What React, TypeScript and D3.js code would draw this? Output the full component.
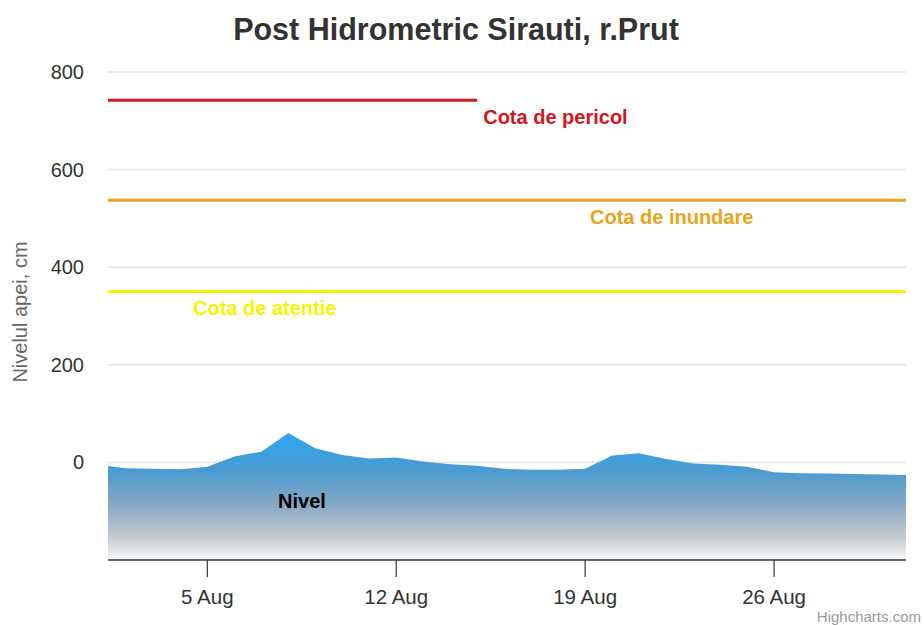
import React from "react";
import * as d3 from "d3";

const TITLE = "Post Hidrometric Sirauti, r.Prut";
const Y_TITLE = "Nivelul apei, cm";
const SERIES_NAME = "Nivel";

// daily water level readings (cm)
const dates = [
  "2024-08-01", "2024-08-02", "2024-08-03", "2024-08-04", "2024-08-05", "2024-08-06",
  "2024-08-07", "2024-08-08", "2024-08-09", "2024-08-10", "2024-08-11", "2024-08-12",
  "2024-08-13", "2024-08-14", "2024-08-15", "2024-08-16", "2024-08-17", "2024-08-18",
  "2024-08-19", "2024-08-20", "2024-08-21", "2024-08-22", "2024-08-23", "2024-08-24",
  "2024-08-25", "2024-08-26", "2024-08-27", "2024-08-28", "2024-08-29", "2024-08-30",
  "2024-08-31",
];
const levels = [
  -5, -12, -13, -14, -9, 12, 22, 60, 29, 15, 8, 10, 2, -4, -7, -13, -15, -15, -13, 14, 19, 7, -2, -5,
  -9, -20, -22, -23, -24, -25, -26,
];

// x extent of the axis
const xExtent = ["2024-08-01T07:40", "2024-08-30T21:20"];

// threshold levels
const thresholdNames = ["Cota de pericol", "Cota de inundare", "Cota de atentie"];
const thresholdValues = [742, 537, 350];
const thresholdColors = ["#d1161e", "#e9a41a", "#f7f400"];
const dangerEnd = "2024-08-15";

const yTicks = [0, 200, 400, 600, 800];
const xTickDates = ["2024-08-05", "2024-08-12", "2024-08-19", "2024-08-26"];
const xTickLabels = ["5 Aug", "12 Aug", "19 Aug", "26 Aug"];

const W = 924;
const H = 625;
const M = { left: 108, right: 906, top: 72, bottom: 560 };
const FONT = "'Liberation Sans', Arial, Helvetica, sans-serif";

const parse = (s: string) => new Date(s.length > 10 ? s : s + "T00:00");

export default function App() {
  const x = d3
    .scaleTime()
    .domain(xExtent.map(parse))
    .range([M.left, M.right]);
  const y = d3.scaleLinear().domain([-200, 800]).range([M.bottom, M.top]);

  const data = dates.map((d, i) => ({ date: parse(d), v: levels[i] }));
  const area = d3
    .area<{ date: Date; v: number }>()
    .x((d) => x(d.date))
    .y0(y(-200))
    .y1((d) => y(d.v));

  const labelPos = [
    { x: x(parse(dangerEnd)) + 6, dy: 24 },
    { x: 590, dy: 24 },
    { x: 193, dy: 23 },
  ];

  return (
    <svg
      width={W}
      height={H}
      style={{ position: "absolute", left: 0, top: 0, background: "#fff" }}
      fontFamily={FONT}
    >
      <defs>
        <clipPath id="plotClip">
          <rect x={M.left} y={M.top - 10} width={M.right - M.left} height={M.bottom - M.top + 10} />
        </clipPath>
        <linearGradient id="areaGrad" x1="0" y1="0" x2="0" y2="1">
          <stop offset="0" stopColor="#2ea5f0" />
          <stop offset="0.3" stopColor="#4b9bd0" />
          <stop offset="0.55" stopColor="#84a7c4" />
          <stop offset="0.8" stopColor="#c0c6cd" />
          <stop offset="1" stopColor="#f8f8f8" />
        </linearGradient>
      </defs>

      <text
        x={456}
        y={40}
        textAnchor="middle"
        fontSize={30.5}
        fontWeight="bold"
        fill="#333333"
      >
        {TITLE}
      </text>

      {/* grid lines */}
      {yTicks.map((t) => (
        <line
          key={t}
          x1={M.left}
          x2={M.right}
          y1={y(t)}
          y2={y(t)}
          stroke="#e6e6e6"
          strokeWidth={1.5}
        />
      ))}

      {/* y labels */}
      {yTicks.map((t) => (
        <text key={t} x={84} y={y(t) + 7} textAnchor="end" fontSize={20} fill="#333333">
          {t}
        </text>
      ))}

      <text
        transform={`translate(27,312) rotate(-90)`}
        textAnchor="middle"
        fontSize={20}
        fill="#666666"
      >
        {Y_TITLE}
      </text>

      {/* area */}
      <g clipPath="url(#plotClip)">
        <path d={area(data) || ""} fill="url(#areaGrad)" />
      </g>

      {/* thresholds */}
      {thresholdValues.map((v, i) => (
        <line
          key={i}
          x1={M.left}
          x2={i === 0 ? x(parse(dangerEnd)) : M.right}
          y1={y(v)}
          y2={y(v)}
          stroke={thresholdColors[i]}
          strokeWidth={3}
        />
      ))}
      {thresholdNames.map((n, i) => (
        <text
          key={n}
          x={labelPos[i].x}
          y={y(thresholdValues[i]) + labelPos[i].dy}
          fontSize={20}
          fontWeight="bold"
          fill={thresholdColors[i]}
        >
          {n}
        </text>
      ))}

      <text x={302} y={508} textAnchor="middle" fontSize={20} fontWeight="bold" fill="#000">
        {SERIES_NAME}
      </text>

      {/* x axis */}
      <line x1={M.left} x2={M.right} y1={M.bottom} y2={M.bottom} stroke="#333333" strokeWidth={1.5} />
      {xTickDates.map((d, i) => (
        <g key={d}>
          <line
            x1={x(parse(d))}
            x2={x(parse(d))}
            y1={M.bottom}
            y2={M.bottom + 17}
            stroke="#333333"
            strokeWidth={1.2}
          />
          <text x={x(parse(d))} y={604} textAnchor="middle" fontSize={20.5} fill="#333333">
            {xTickLabels[i]}
          </text>
        </g>
      ))}

      <text x={921} y={622} textAnchor="end" fontSize={15} fill="#999999">
        Highcharts.com
      </text>
    </svg>
  );
}
